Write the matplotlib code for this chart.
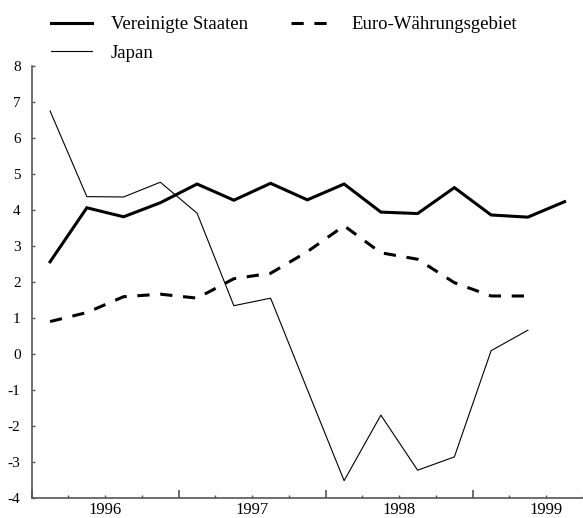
import matplotlib
matplotlib.use("Agg")
import matplotlib.pyplot as plt

# Quarterly data, 1996Q1 .. 1999Q3
quarters = ["1996Q1", "1996Q2", "1996Q3", "1996Q4",
            "1997Q1", "1997Q2", "1997Q3", "1997Q4",
            "1998Q1", "1998Q2", "1998Q3", "1998Q4",
            "1999Q1", "1999Q2", "1999Q3"]
us = [2.57, 4.07, 3.82, 4.21, 4.73, 4.28, 4.75, 4.29,
      4.73, 3.95, 3.91, 4.63, 3.87, 3.81, 4.24]
euro = [0.91, 1.16, 1.60, 1.67, 1.56, 2.10, 2.25, 2.85,
        3.57, 2.82, 2.64, 1.99, 1.62, 1.62]
japan = [6.76, 4.38, 4.37, 4.78, 3.92, 1.35, 1.56, -0.98,
         -3.51, -1.69, -3.22, -2.85, 0.10, 0.67]
years = [1996, 1997, 1998, 1999]


def quarter_pos(q):
    # centre of the quarter on a continuous year axis
    return int(q[:4]) + (int(q[-1]) - 1) * 0.25 + 0.125


x_all = [quarter_pos(q) for q in quarters]

plt.rcParams["font.family"] = ["Liberation Serif", "DejaVu Serif"]

fig = plt.figure(figsize=(5.83, 5.18), dpi=100)
fig.patch.set_facecolor("white")
ax = fig.add_axes([31.7 / 583, 19.7 / 518, 1 - 31.7 / 583, 432.0 / 518])

ax.plot(x_all[:len(us)], us, color="black", linewidth=2.2,
        label="Vereinigte Staaten", solid_joinstyle="miter")
ax.plot(x_all[:len(japan)], japan, color="black", linewidth=0.8,
        label="Japan")
ax.plot(x_all[:len(euro)], euro, color="black", linewidth=2.2,
        dashes=(4, 3.5), label="Euro-Währungsgebiet")

ax.set_ylim(-4, 8)
ax.set_xlim(1996, 1999.70)

ax.set_yticks(range(-4, 9))
ax.set_yticklabels([str(v) for v in range(-4, 9)], fontsize=11)

# year boundaries as major ticks, quarters as minor ticks, labels mid-year
ax.set_xticks(years)
ax.set_xticklabels([""] * len(years))
minor = []
minor_labels = []
for y in years:
    for k in (0.25, 0.5, 0.75):
        minor.append(y + k)
        minor_labels.append(str(y) if k == 0.5 else "")
ax.set_xticks(minor, minor=True)
ax.set_xticklabels(minor_labels, minor=True, fontsize=12)

ax.spines["top"].set_visible(False)
ax.spines["right"].set_visible(False)
for s in ("left", "bottom"):
    ax.spines[s].set_color("#555555")
    ax.spines[s].set_linewidth(1.2)

ax.tick_params(axis="y", direction="in", length=2.5, width=1, color="#555555", pad=8)
ax.tick_params(axis="x", which="major", direction="in", length=5.5, width=1.2, color="#555555")
ax.tick_params(axis="x", which="minor", direction="in", length=2.5, width=1, color="#555555", pad=3)

handles, labels = ax.get_legend_handles_labels()
fig.legend(handles, labels,
           loc="upper left", bbox_to_anchor=(51 / 583, 1 - 16 / 518),
           ncol=2, frameon=False, fontsize=13.5, handlelength=2.2,
           handletextpad=1.0, columnspacing=2.3, labelspacing=0.6,
           borderpad=0, borderaxespad=0)

fig.savefig("out.png", dpi=100, facecolor="white")
